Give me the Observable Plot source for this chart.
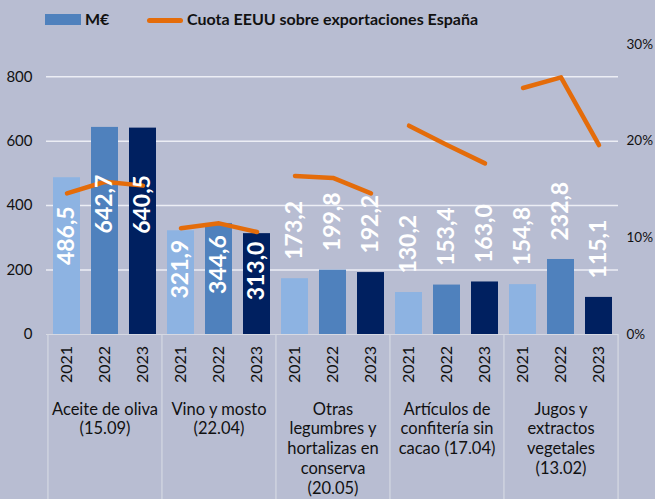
<!DOCTYPE html>
<html>
<head>
<meta charset="utf-8">
<script src="https://cdn.jsdelivr.net/npm/d3@7"></script>
<script src="https://cdn.jsdelivr.net/npm/@observablehq/plot@0.6"></script>
<style>
  html, body { margin: 0; padding: 0; background: #b8bdd2; width: 655px; height: 499px; overflow: hidden; }
  body { font-family: Lato, "Open Sans", sans-serif; }
  #legend { position: relative; height: 36px; width: 655px; }
  #legend .sw { position: absolute; }
  #legend .lt { position: absolute; font-weight: bold; font-size: 16px; color: #111; top: 9px; white-space: nowrap; }
  #chart svg { display: block; }
</style>
</head>
<body>
<div id="legend">
  <div class="sw" style="left:45px; top:14px; width:36px; height:11px; background:#4f81bd;"></div>
  <div class="lt" style="left:85px;">M€</div>
  <div class="sw" style="left:147px; top:18px; width:36px; height:5px; border-radius:3px; background:#e46c0a;"></div>
  <div class="lt" style="left:187px;">Cuota EEUU sobre exportaciones España</div>
</div>
<div id="chart"></div>
<script>
// ---- Data ----
const groups = [
  "Aceite de oliva\n(15.09)",
  "Vino y mosto\n(22.04)",
  "Otras\nlegumbres y\nhortalizas en\nconserva\n(20.05)",
  "Artículos de\nconfitería sin\ncacao (17.04)",
  "Jugos y\nextractos\nvegetales\n(13.02)"
];
const years = ["2021", "2022", "2023"];
// M€ per group, by year
const mEuros = [
  [486.5, 642.7, 640.5],
  [321.9, 344.6, 313.0],
  [173.2, 199.8, 192.2],
  [130.2, 153.4, 163.0],
  [154.8, 232.8, 115.1]
];
// Cuota EEUU sobre exportaciones España (%)
const cuota = [
  [14.6, 15.8, 15.4],
  [11.0, 11.5, 10.6],
  [16.4, 16.2, 14.6],
  [21.6, 19.6, 17.7],
  [25.5, 26.6, 19.6]
];
const leftTicks = [0, 200, 400, 600, 800];
const rightTicks = [0, 10, 20, 30];

// ---- Build table ----
const rows = [];
groups.forEach((g, gi) => years.forEach((yr, yi) => {
  rows.push({g, gi, year: yr, key: gi + "|" + yr, v: mEuros[gi][yi], c: cuota[gi][yi]});
}));
const keys = rows.map(d => d.key);
const pctScale = 30; // 1% on right axis = 30 M€ on left axis (30% <-> 900)
const W = 655, H = 463, mL = 46, mR = 37, mT = 8, mB = 165;
const step = (W - mL - mR) / keys.length;
const fmt = d => d.v.toFixed(1).replace(".", ",");
const labelY = d => d.v > 250 ? d.v * 0.63 : d.v + 150;

const chart = Plot.plot({
  width: W, height: H,
  marginTop: mT, marginBottom: mB, marginLeft: mL, marginRight: mR,
  style: {background: "transparent", fontFamily: "Lato, 'Open Sans', sans-serif", overflow: "visible"},
  x: {type: "band", domain: keys, paddingInner: 0.29, paddingOuter: 0.145, axis: null},
  y: {domain: [0, 900], axis: null},
  color: {domain: years, range: ["#8db3e2", "#4f81bd", "#002060"]},
  marks: [
    Plot.ruleY([200, 400, 600, 800], {stroke: "#eceef5", strokeWidth: 1.5}),
    Plot.barY(rows, {x: "key", y: "v", fill: "year"}),
    Plot.line(rows, {x: "key", y: d => d.c * pctScale, z: "g", stroke: "#e46c0a", strokeWidth: 4.5, strokeLinecap: "round", strokeLinejoin: "round"}),
    Plot.text(rows, {x: "key", y: labelY, text: fmt, rotate: -90, fill: "white", fontWeight: "bold", fontSize: 23}),
    Plot.ruleY([0], {stroke: "#d6d9e3", strokeWidth: 1.2}),
    Plot.ruleX(rows.filter(d => d.year === "2021"), {x: "key", y1: 0, y2: 0, insetBottom: -mB, dx: -step / 2, stroke: "#d6d9e3", strokeWidth: 1.2}),
    Plot.ruleX(rows.slice(-1), {x: "key", y1: 0, y2: 0, insetBottom: -mB, dx: step / 2, stroke: "#d6d9e3", strokeWidth: 1.2}),
    Plot.text(rows, {x: "key", y: 0, text: "year", rotate: -90, dy: 30, fontSize: 16, fill: "#111"}),
    Plot.text(rows.filter(d => d.year === "2022"), {x: "key", y: 0, text: "g", lineAnchor: "top", dy: 66, fontSize: 16.5, lineHeight: 1.2, fill: "#111"}),
    Plot.axisY({anchor: "left", ticks: leftTicks, tickSize: 0, tickPadding: 14, fontSize: 15, label: null, fill: "#111"}),
    Plot.axisY({anchor: "right", ticks: rightTicks.map(t => t * pctScale), tickFormat: t => (t / pctScale) + "%", tickSize: 0, tickPadding: 8, fontSize: 13.5, label: null, fill: "#111"})
  ]
});
document.getElementById("chart").appendChild(chart);
</script>
</body>
</html>
